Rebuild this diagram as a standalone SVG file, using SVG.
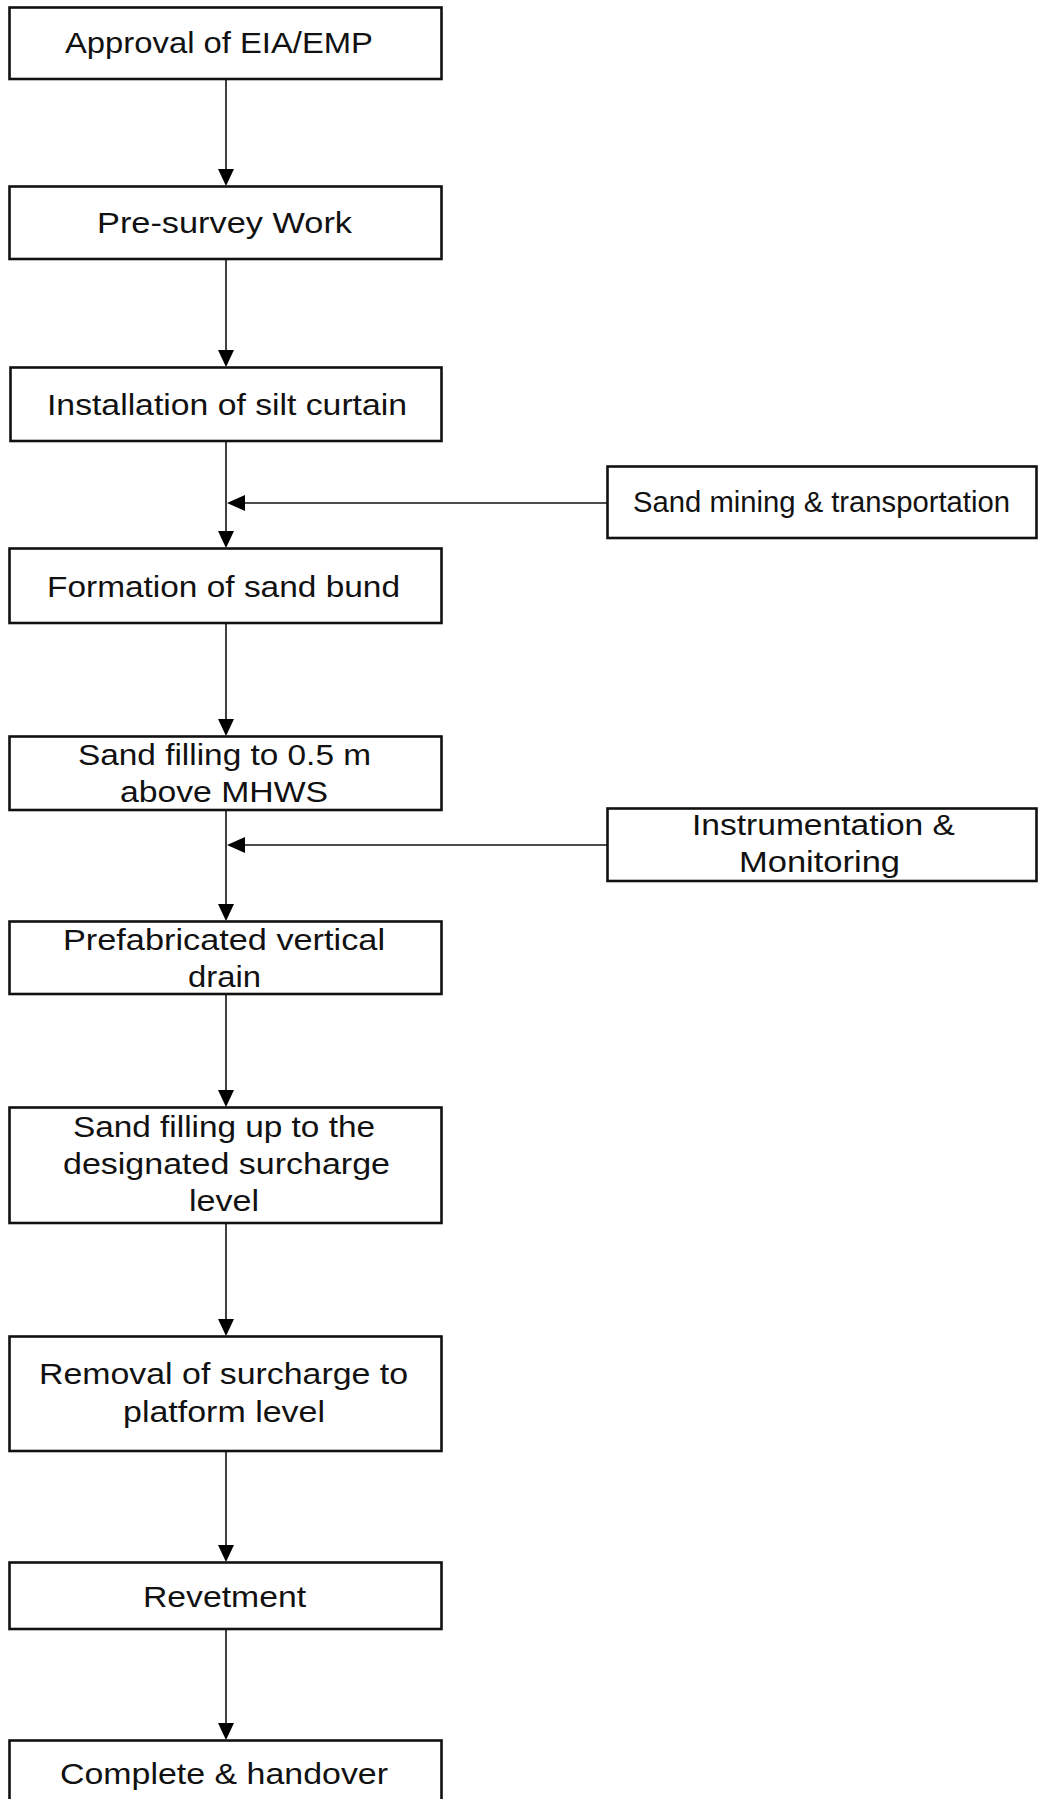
<svg xmlns="http://www.w3.org/2000/svg" width="1038" height="1799" viewBox="0 0 1038 1799">
<style>
.box{fill:#fff;stroke:#111;stroke-width:2.6}
.t{font-family:"Liberation Sans",Arial,sans-serif;font-size:29px;fill:#111;text-anchor:start}
.ln{stroke:#111;stroke-width:1.6;fill:none}
.ah{fill:#000}
</style>
<rect width="1038" height="1799" fill="#fff"/>
<g id="connectors">
<line class="ln" x1="226" y1="79" x2="226" y2="170"/>
<polygon class="ah" points="218,169 234,169 226,186"/>
<line class="ln" x1="226" y1="259" x2="226" y2="351"/>
<polygon class="ah" points="218,350 234,350 226,367"/>
<line class="ln" x1="226" y1="441" x2="226" y2="532"/>
<polygon class="ah" points="218,531 234,531 226,548"/>
<line class="ln" x1="607" y1="503" x2="244" y2="503"/>
<polygon class="ah" points="245,495 245,511 227,503"/>
<line class="ln" x1="226" y1="623" x2="226" y2="720"/>
<polygon class="ah" points="218,719 234,719 226,736"/>
<line class="ln" x1="226" y1="810" x2="226" y2="905"/>
<polygon class="ah" points="218,904 234,904 226,921"/>
<line class="ln" x1="607" y1="845" x2="244" y2="845"/>
<polygon class="ah" points="245,837 245,853 227,845"/>
<line class="ln" x1="226" y1="994" x2="226" y2="1091"/>
<polygon class="ah" points="218,1090 234,1090 226,1107"/>
<line class="ln" x1="226" y1="1223" x2="226" y2="1320"/>
<polygon class="ah" points="218,1319 234,1319 226,1336"/>
<line class="ln" x1="226" y1="1451" x2="226" y2="1546"/>
<polygon class="ah" points="218,1545 234,1545 226,1562"/>
<line class="ln" x1="226" y1="1629" x2="226" y2="1724"/>
<polygon class="ah" points="218,1723 234,1723 226,1740"/>
</g>
<g id="n1"><rect class="box" x="9.5" y="7.5" width="432" height="71.5"/>
<text class="t" x="65" y="53" textLength="308" lengthAdjust="spacingAndGlyphs">Approval of EIA/EMP</text></g>
<g id="n2"><rect class="box" x="9.5" y="186.5" width="432" height="72.5"/>
<text class="t" x="97" y="233" textLength="255" lengthAdjust="spacingAndGlyphs">Pre-survey Work</text></g>
<g id="n3"><rect class="box" x="10.5" y="367.5" width="431" height="73.5"/>
<text class="t" x="47" y="415" textLength="360" lengthAdjust="spacingAndGlyphs">Installation of silt curtain</text></g>
<g id="s1"><rect class="box" x="607.5" y="466.5" width="429" height="71.5"/>
<text class="t" x="633" y="512" textLength="377" lengthAdjust="spacingAndGlyphs">Sand mining &amp; transportation</text></g>
<g id="n4"><rect class="box" x="9.5" y="548.5" width="432" height="74.5"/>
<text class="t" x="47" y="597" textLength="353" lengthAdjust="spacingAndGlyphs">Formation of sand bund</text></g>
<g id="n5"><rect class="box" x="9.5" y="736.5" width="432" height="73.5"/>
<text class="t" x="78" y="765" textLength="293" lengthAdjust="spacingAndGlyphs">Sand filling to 0.5 m</text>
<text class="t" x="120" y="802" textLength="208" lengthAdjust="spacingAndGlyphs">above MHWS</text></g>
<g id="s2"><rect class="box" x="607.5" y="808.5" width="429" height="72.5"/>
<text class="t" x="692" y="835" textLength="263" lengthAdjust="spacingAndGlyphs">Instrumentation &amp;</text>
<text class="t" x="739" y="872" textLength="161" lengthAdjust="spacingAndGlyphs">Monitoring</text></g>
<g id="n6"><rect class="box" x="9.5" y="921.5" width="432" height="72.5"/>
<text class="t" x="63" y="950" textLength="322" lengthAdjust="spacingAndGlyphs">Prefabricated vertical</text>
<text class="t" x="188" y="987" textLength="73" lengthAdjust="spacingAndGlyphs">drain</text></g>
<g id="n7"><rect class="box" x="9.5" y="1107.5" width="432" height="115.5"/>
<text class="t" x="73" y="1137" textLength="302" lengthAdjust="spacingAndGlyphs">Sand filling up to the</text>
<text class="t" x="63" y="1174" textLength="327" lengthAdjust="spacingAndGlyphs">designated surcharge</text>
<text class="t" x="189" y="1211" textLength="70" lengthAdjust="spacingAndGlyphs">level</text></g>
<g id="n8"><rect class="box" x="9.5" y="1336.5" width="432" height="114.5"/>
<text class="t" x="39" y="1384" textLength="369" lengthAdjust="spacingAndGlyphs">Removal of surcharge to</text>
<text class="t" x="123" y="1422" textLength="202" lengthAdjust="spacingAndGlyphs">platform level</text></g>
<g id="n9"><rect class="box" x="9.5" y="1562.5" width="432" height="66.5"/>
<text class="t" x="143" y="1607" textLength="163" lengthAdjust="spacingAndGlyphs">Revetment</text></g>
<g id="n10"><rect class="box" x="9.5" y="1740.5" width="432" height="80"/>
<text class="t" x="60" y="1784" textLength="328" lengthAdjust="spacingAndGlyphs">Complete &amp; handover</text></g>
</svg>
